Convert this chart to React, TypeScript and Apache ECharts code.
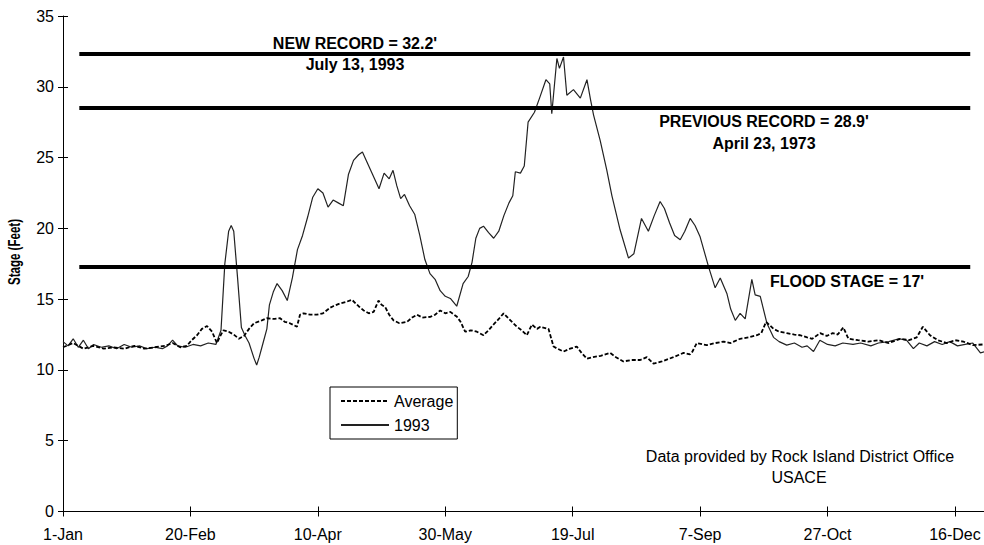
import React, { useEffect, useRef } from "react";
import * as echarts from "echarts";

// Day of year (0 = 1-Jan)
const xTickDays = [0, 50, 100, 150, 200, 250, 300, 350];
const xTickLabels = ["1-Jan", "20-Feb", "10-Apr", "30-May", "19-Jul", "7-Sep", "27-Oct", "16-Dec"];
const yTicks = [0, 5, 10, 15, 20, 25, 30, 35];

// 1993 stage (feet)
const days1993 = [
  0, 2, 4, 6, 8, 10, 12, 15, 18, 21, 24, 27, 30, 33, 36, 39, 41, 43, 45, 48, 51, 54, 57, 60,
  62, 63.5, 65, 66, 67, 68.5, 70, 71.5, 73, 75, 76, 77, 78.5, 80, 81, 82.5, 84, 86, 88, 90, 92,
  94, 96, 98, 100, 102, 104, 106, 108, 110, 112, 114, 116, 117.5, 119, 121, 123, 124, 126, 128,
  129.5, 131, 132.5, 134, 136, 138, 140, 142, 144, 146, 148, 150, 152, 154.5, 157, 159, 160.5,
  162, 163.5, 165, 167, 169, 171, 173, 175, 176.5, 177.5, 179.5, 181, 182.5, 185, 187, 189.5,
  191, 191.8, 193.8, 194.8, 196.4, 197.7, 200.3, 203, 205.6, 207, 208.2, 210.8, 213.4, 215.4,
  218.6, 221.9, 224, 227, 229.7, 232, 234.3, 236, 238, 240, 242.2, 244, 246.1, 248, 250, 253.3,
  255.9, 257.9, 260.5, 262, 263.8, 265.7, 267.7, 270.3, 271.6, 273.6, 276.2, 278.8, 281, 284,
  287, 290, 292, 294.5, 297, 300, 303, 306, 310, 313, 317, 320, 324, 328, 331, 333.7, 336, 339,
  342, 345, 348, 351, 354, 357, 360, 362,
];
const stage1993 = [
  12.0, 11.7, 12.2, 11.6, 12.1, 11.5, 11.8, 11.6, 11.7, 11.5, 11.8, 11.6, 11.7, 11.5, 11.6, 11.5,
  11.7, 12.1, 11.7, 11.6, 11.8, 11.7, 11.9, 11.8, 12.8, 17.5, 19.8, 20.2, 19.8, 16.5, 13.0, 12.4,
  11.9, 10.8, 10.35, 10.9, 11.9, 12.9, 14.6, 15.5, 16.1, 15.6, 14.9, 16.5, 18.5, 19.5, 20.8, 22.2,
  22.8, 22.5, 21.5, 22.0, 21.8, 21.6, 23.8, 24.8, 25.2, 25.4, 24.8, 24.0, 23.2, 22.8, 23.9, 23.5,
  24.1, 23.0, 22.1, 22.4, 21.6, 21.0, 19.5, 17.8, 16.8, 16.4, 15.6, 15.2, 15.05, 14.5, 16.1, 16.6,
  17.6, 19.3, 20.0, 20.15, 19.7, 19.3, 19.8, 20.9, 21.8, 22.3, 24.0, 23.9, 24.4, 27.5, 28.2, 29.2,
  30.5, 30.2, 28.1, 32.0, 31.3, 32.1, 29.4, 29.8, 29.2, 30.5, 29.1, 28.0, 26.2, 24.1, 22.3, 19.9,
  17.9, 18.2, 20.7, 19.8, 20.9, 21.9, 21.4, 20.4, 19.5, 19.2, 19.8, 20.7, 20.2, 19.4, 17.3, 15.8,
  16.5, 15.4, 14.3, 13.5, 14.0, 13.6, 16.4, 15.3, 15.2, 13.3, 12.3, 12.0, 11.75, 11.9, 11.6, 11.7,
  11.3, 12.1, 11.8, 11.7, 11.9, 11.8, 11.9, 11.7, 11.9, 12.0, 12.2, 12.1, 11.5, 11.9, 11.7, 12.0,
  11.8, 12.0, 11.7, 11.8, 11.9, 11.2, 11.3,
];

// Average stage (feet)
const daysAvg = [
  0, 4, 8, 12, 16, 20, 24, 28, 32, 36, 40, 43, 46, 48.6, 50.5, 52.6, 54.5, 56.5, 58.5, 60.4, 62,
  63, 65, 67, 69, 71, 73, 75, 78, 80, 83, 85.2, 87, 89, 91.8, 93, 94.4, 97, 99.6, 102, 104.9, 106,
  108.8, 111, 113.4, 116, 118, 120, 121.9, 123.8, 125, 126.4, 128, 129.7, 132, 135, 137, 138.9,
  141, 144.1, 146, 148, 150, 152, 154.6, 156, 157.8, 160, 162.4, 165, 167, 168.9, 171, 172.9, 175,
  178.1, 180, 182, 184, 186, 187.3, 190.5, 192.5, 194, 196.4, 199, 201.6, 203.5, 205.6, 208, 211,
  214.7, 217, 219.9, 223, 226.5, 229.1, 231.7, 235, 239.5, 243.5, 246, 247, 248.7, 252.6, 256,
  259.2, 262, 265.7, 269, 272.3, 274, 275.9, 278.8, 281, 284, 287, 289.3, 292, 294, 297.1, 299.7,
  302, 304, 306.2, 308.2, 312, 316, 320, 324, 328.5, 332, 335, 337.4, 340.2, 343.3, 346.8, 350,
  353.3, 357, 361, 364,
];
const stageAvg = [
  11.6, 11.9, 11.5, 11.7, 11.5, 11.6, 11.5, 11.7, 11.5, 11.6, 11.7, 11.9, 11.6, 11.7, 12.1, 12.45,
  12.9, 13.1, 12.7, 11.9, 12.5, 12.8, 12.7, 12.5, 12.2, 12.4, 12.9, 13.3, 13.5, 13.65, 13.6, 13.65,
  13.4, 13.3, 13.05, 13.9, 14.0, 13.9, 13.9, 14.0, 14.4, 14.5, 14.7, 14.8, 14.95, 14.5, 14.2, 14.0,
  14.1, 14.9, 14.6, 14.45, 13.9, 13.5, 13.3, 13.4, 13.7, 13.9, 13.7, 13.75, 13.9, 14.2, 14.0, 14.1,
  13.75, 13.4, 12.7, 12.8, 12.7, 12.45, 12.8, 13.2, 13.6, 14.0, 13.6, 13.05, 12.8, 12.45, 13.2,
  12.9, 13.05, 12.9, 11.65, 11.5, 11.3, 11.5, 11.65, 11.2, 10.8, 10.9, 11.0, 11.2, 10.9, 10.6,
  10.7, 10.7, 10.9, 10.45, 10.6, 10.9, 11.2, 11.1, 11.3, 11.9, 11.75, 11.9, 12.0, 11.9, 12.2, 12.3,
  12.45, 12.6, 13.4, 12.9, 12.7, 12.6, 12.5, 12.45, 12.3, 12.2, 12.6, 12.4, 12.6, 12.5, 13.0, 12.2,
  12.1, 12.0, 12.1, 11.9, 12.2, 12.1, 12.3, 13.05, 12.45, 12.1, 11.9, 12.1, 12.0, 11.75, 11.8, 11.7,
];

// Reference levels as drawn (new record, previous record, flood stage)
const refLevels = [32.35, 28.5, 17.28];
const refSpan = [6.4, 356];

const FONT = '"Liberation Sans", Arial, Helvetica, sans-serif';

export default function App() {
  const ref = useRef<HTMLDivElement>(null);
  useEffect(() => {
    if (!ref.current) return;
    const chart = echarts.init(ref.current, null, { renderer: "svg" });
    const xMax = 361.4;
    const labelMap: Record<number, string> = {};
    xTickDays.forEach((d, i) => (labelMap[d] = xTickLabels[i]));
    chart.setOption({
      animation: false,
      backgroundColor: "#fff",
      textStyle: { fontFamily: FONT },
      grid: { left: 63, right: 0, top: 16, bottom: 33.5, containLabel: false },
      legend: {
        data: ["Average", "1993"],
        orient: "vertical",
        left: 330,
        top: 387,
        itemWidth: 48,
        itemHeight: 12,
        itemGap: 8,
        padding: [6, 4, 6, 10],
        borderColor: "#000",
        borderWidth: 1,
        itemStyle: { opacity: 0 },
        textStyle: { fontSize: 16, color: "#000", fontFamily: FONT },
      },
      xAxis: [
        {
          type: "value",
          min: 0,
          max: xMax,
          interval: 50,
          axisLine: { show: true, lineStyle: { color: "#000", width: 1 } },
          axisTick: { show: true, length: 5, lineStyle: { color: "#000" }, customValues: xTickDays },
          axisLabel: {
            customValues: xTickDays,
            formatter: (v: number) => labelMap[Math.round(v)] ?? "",
            fontSize: 16,
            color: "#000",
            margin: 15,
            fontFamily: FONT,
          },
          splitLine: { show: false },
        },
        {
          type: "value",
          min: 0,
          max: xMax,
          interval: 50,
          position: "bottom",
          axisLine: { show: false },
          axisTick: { show: true, inside: true, length: 5, lineStyle: { color: "#000" }, customValues: xTickDays },
          axisLabel: { show: false },
          splitLine: { show: false },
        },
      ],
      yAxis: [
        {
          type: "value",
          min: 0,
          max: 35,
          interval: 5,
          axisLine: { show: true, lineStyle: { color: "#000", width: 1 } },
          axisTick: { show: true, length: 5, lineStyle: { color: "#000" }, customValues: yTicks },
          axisLabel: { fontSize: 16, color: "#000", margin: 9, fontFamily: FONT, customValues: yTicks },
          splitLine: { show: false },
        },
        {
          type: "value",
          min: 0,
          max: 35,
          interval: 5,
          position: "left",
          axisLine: { show: false },
          axisTick: { show: true, inside: true, length: 5, lineStyle: { color: "#000" }, customValues: yTicks },
          axisLabel: { show: false },
          splitLine: { show: false },
        },
      ],
      series: [
        {
          name: "Average",
          type: "line",
          data: daysAvg.map((d, i) => [d, stageAvg[i]]),
          symbol: "none",
          lineStyle: { color: "#000", width: 1.8, type: [4, 2] },
          itemStyle: { color: "#000" },
          z: 3,
        },
        {
          name: "1993",
          type: "line",
          data: days1993.map((d, i) => [d, stage1993[i]]),
          symbol: "none",
          lineStyle: { color: "#222", width: 1.2 },
          itemStyle: { color: "#222" },
          z: 2,
          markLine: {
            silent: true,
            symbol: ["none", "none"],
            label: { show: false },
            lineStyle: { color: "#000", width: 4, type: "solid" },
            data: refLevels.map((l) => [{ coord: [refSpan[0], l] }, { coord: [refSpan[1], l] }]),
          },
        },
      ],
      graphic: [
        {
          type: "text",
          x: 14,
          y: 252,
          rotation: Math.PI / 2,
          scaleX: 0.68,
          style: { text: "Stage (Feet)", font: `bold 17px ${FONT}`, fill: "#000", align: "center", verticalAlign: "middle" },
        },
        {
          type: "text",
          x: 355,
          y: 43,
          style: { text: "NEW RECORD = 32.2'", font: `bold 16px ${FONT}`, fill: "#000", align: "center", verticalAlign: "middle" },
        },
        {
          type: "text",
          x: 355,
          y: 64,
          style: { text: "July 13, 1993", font: `bold 16px ${FONT}`, fill: "#000", align: "center", verticalAlign: "middle" },
        },
        {
          type: "text",
          x: 764,
          y: 121,
          style: { text: "PREVIOUS RECORD = 28.9'", font: `bold 16px ${FONT}`, fill: "#000", align: "center", verticalAlign: "middle" },
        },
        {
          type: "text",
          x: 764,
          y: 143,
          style: { text: "April 23, 1973", font: `bold 16px ${FONT}`, fill: "#000", align: "center", verticalAlign: "middle" },
        },
        {
          type: "text",
          x: 847,
          y: 281,
          style: { text: "FLOOD STAGE = 17'", font: `bold 16px ${FONT}`, fill: "#000", align: "center", verticalAlign: "middle" },
        },
        {
          type: "text",
          x: 800,
          y: 456,
          style: { text: "Data provided by Rock Island District Office", font: `16px ${FONT}`, fill: "#000", align: "center", verticalAlign: "middle" },
        },
        {
          type: "text",
          x: 799,
          y: 477,
          style: { text: "USACE", font: `16px ${FONT}`, fill: "#000", align: "center", verticalAlign: "middle" },
        },
      ],
    });
    return () => chart.dispose();
  }, []);
  return <div ref={ref} style={{ width: 984, height: 545, position: "absolute", left: 0, top: 0 }} />;
}
